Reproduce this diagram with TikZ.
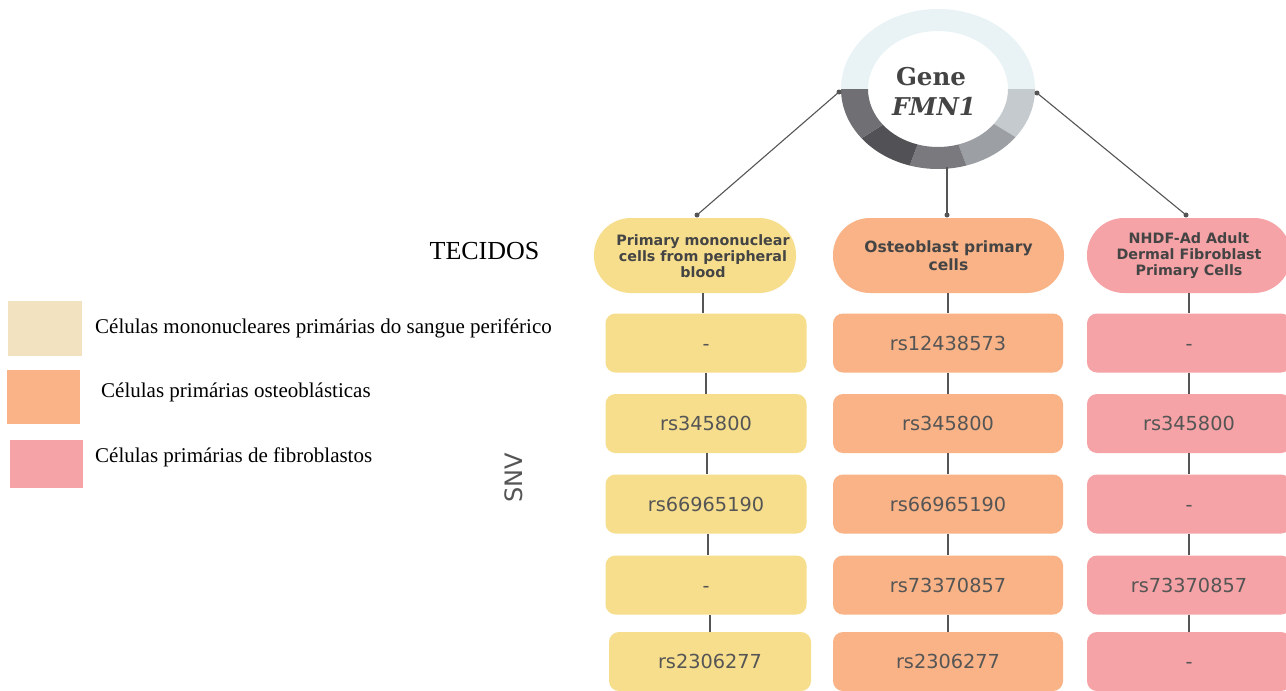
\documentclass[tikz,border=0pt]{standalone}
\usepackage{fontspec}
\setmainfont{Liberation Serif}
\setsansfont{DejaVu Sans}
\newfontfamily\slabfont{DejaVu Serif}
\definecolor{ylw}{HTML}{F6DE8D}
\definecolor{org}{HTML}{F9B387}
\definecolor{pnk}{HTML}{F5A3A6}
\definecolor{beige}{HTML}{F3E2C0}
\definecolor{txt}{HTML}{555555}
\definecolor{dark}{HTML}{444444}
\definecolor{linkc}{HTML}{555555}
\definecolor{ringtop}{HTML}{E9F3F5}
\definecolor{segA}{HTML}{C4CACD}
\definecolor{segB}{HTML}{9C9FA3}
\definecolor{segC}{HTML}{7A7A7E}
\definecolor{segD}{HTML}{525256}
\definecolor{segE}{HTML}{707074}
\tikzset{
  pill/.style={rounded corners=37pt, minimum height=75pt, inner sep=0pt, align=center,
    text=dark, font=\sffamily\bfseries\fontsize{14.3}{16}\selectfont},
  pilltxt/.style={inner sep=0pt, align=center, text=dark, font=\sffamily\bfseries\fontsize{14.3}{16}\selectfont},
  snp/.style={rounded corners=10pt, minimum height=59pt, inner sep=0pt, text=txt,
    font=\sffamily\fontsize{19.3}{21}\selectfont},
  link/.style={draw=linkc, line width=1.1pt},
  dotc/.style={circle, fill=linkc, inner sep=0pt, minimum size=5pt},
  swatch/.style={inner sep=0pt},
  genetxt/.style={anchor=base, inner sep=0pt, text=dark, font=\slabfont\bfseries\fontsize{24.5}{28}\selectfont},
  legtxt/.style={anchor=west, inner sep=0pt, font=\fontsize{21}{24}\selectfont, text=black}
}
\newcommand{\ringseg}[3]{%
  \fill[#3] (938,89) ++(#1:97 and 80) arc[start angle=#1, end angle=#2, x radius=97, y radius=80]
    -- ([shift={(#2:70 and 58)}]938,89) arc[start angle=#2, end angle=#1, x radius=70, y radius=58] -- cycle;}
\newcommand{\nodash}{\vphantom{0}-}
\begin{document}
\begin{tikzpicture}[x=1pt,y=-1pt]
\useasboundingbox (0,0) rectangle (1286,691);
\fill[white] (0,0) rectangle (1286,691);

% ring
\ringseg{180}{360}{ringtop}
\ringseg{0}{37}{segA}
\ringseg{37}{73}{segB}
\ringseg{73}{107}{segC}
\ringseg{107}{142}{segD}
\ringseg{142}{180}{segE}
\node[genetxt] (gene) at (931,85) {Gene};
\node[genetxt] (fmn) at (934,115) {\itshape FMN1};
\coordinate (gl) at (839,92);
\coordinate (gr) at (1037,93);
\coordinate (gb) at (947,167);

% pills
\node[pill, fill=ylw, minimum width=202pt] (p1) at (695,255.5) {};
\node[pilltxt] (p1t) at (703,256) {Primary mononuclear\\cells from peripheral\\blood};
\node[pill, fill=org, minimum width=231pt, font=\sffamily\bfseries\fontsize{15.5}{18}\selectfont] (p2) at (948.5,255.5) {Osteoblast primary\\cells};
\node[pill, fill=pnk, minimum width=204pt] (p3) at (1189,255.5) {NHDF-Ad Adult\\Dermal Fibroblast\\Primary Cells};
\coordinate (t1) at (697,215);
\coordinate (t2) at (947,215);
\coordinate (t3) at (1186,215);

\draw[link] (gl) -- (t1);
\draw[link] (gb) -- (t2);
\draw[link] (gr) -- (t3);
\node[dotc] (dgl) at (gl) {};
\node[dotc] (dgr) at (gr) {};
\node[dotc] (dt1) at (t1) {};
\node[dotc] (dt2) at (t2) {};
\node[dotc] (dt3) at (t3) {};

% SNP boxes
\node[snp, fill=ylw, minimum width=201pt] (a1) at (706,343) {\nodash};
\node[snp, fill=ylw, minimum width=201pt] (a2) at (706,423.5) {rs345800};
\node[snp, fill=ylw, minimum width=201pt] (a3) at (706,504) {rs66965190};
\node[snp, fill=ylw, minimum width=201pt] (a4) at (706,585) {\nodash};
\node[snp, fill=ylw, minimum width=202pt] (a5) at (710,661.5) {rs2306277};

\node[snp, fill=org, minimum width=230pt] (b1) at (948,343) {rs12438573};
\node[snp, fill=org, minimum width=230pt] (b2) at (948,423.5) {rs345800};
\node[snp, fill=org, minimum width=230pt] (b3) at (948,504) {rs66965190};
\node[snp, fill=org, minimum width=230pt] (b4) at (948,585) {rs73370857};
\node[snp, fill=org, minimum width=230pt] (b5) at (948,661.5) {rs2306277};

\node[snp, fill=pnk, minimum width=204pt] (c1) at (1189,343) {\nodash};
\node[snp, fill=pnk, minimum width=204pt] (c2) at (1189,423.5) {rs345800};
\node[snp, fill=pnk, minimum width=204pt] (c3) at (1189,504) {\nodash};
\node[snp, fill=pnk, minimum width=204pt] (c4) at (1189,585) {rs73370857};
\node[snp, fill=pnk, minimum width=204pt] (c5) at (1189,661.5) {\nodash};

% column connectors
\draw[link] (p1.south -| 703,0) -- (a1.north -| 703,0);
\draw[link] (a1.south -| 706,0) -- (a2.north -| 706,0);
\draw[link] (a2.south -| 707,0) -- (a3.north -| 707,0);
\draw[link] (a3.south -| 708,0) -- (a4.north -| 708,0);
\draw[link] (a4.south -| 710,0) -- (a5.north -| 710,0);
\foreach \u/\v in {p2/b1,b1/b2,b2/b3,b3/b4,b4/b5} \draw[link] (\u.south -| b1.center) -- (\v.north -| b1.center);
\foreach \u/\v in {p3/c1,c1/c2,c2/c3,c3/c4,c4/c5} \draw[link] (\u.south -| 1189,0) -- (\v.north -| 1189,0);

% labels
\node[anchor=center, inner sep=0pt, font=\fontsize{26}{28}\selectfont] (tec) at (484.5,251) {TECIDOS};
\node[rotate=90, inner sep=0pt, text=txt, font=\sffamily\fontsize{24}{26}\selectfont] (snv) at (514,478) {SNV};

% legend
\node[swatch, fill=beige, minimum width=74pt, minimum height=55pt] (s1) at (45,328.5) {};
\node[swatch, fill=org, minimum width=73pt, minimum height=54pt] (s2) at (43.5,397) {};
\node[swatch, fill=pnk, minimum width=73pt, minimum height=48pt] (s3) at (46.5,464) {};
\node[legtxt] (l1) at (95,328) {Células mononucleares primárias do sangue periférico};
\node[legtxt] (l2) at (101,392) {Células primárias osteoblásticas};
\node[legtxt] (l3) at (95,457) {Células primárias de fibroblastos};
\end{tikzpicture}
\end{document}
